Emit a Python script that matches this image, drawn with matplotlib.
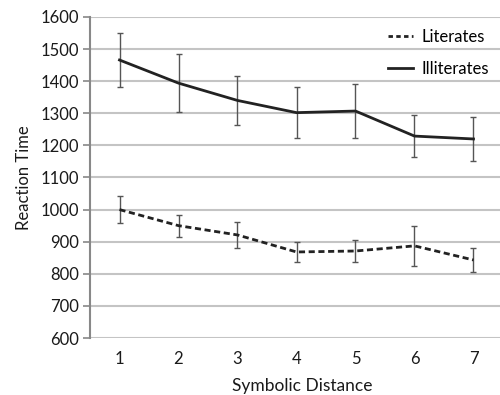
import matplotlib
matplotlib.use("Agg")
import matplotlib.pyplot as plt
from matplotlib.lines import Line2D

distance = [1, 2, 3, 4, 5, 6, 7]
literates = [1000, 950, 921, 868, 871, 887, 843]
literates_err = [43, 34, 40, 32, 34, 62, 37]
illiterates = [1466, 1394, 1340, 1302, 1307, 1229, 1220]
illiterates_err = [84, 90, 76, 80, 85, 65, 68]
yticks = [600, 700, 800, 900, 1000, 1100, 1200, 1300, 1400, 1500, 1600]

plt.rcParams['font.family'] = ['Lato', 'DejaVu Sans']

fig = plt.figure(figsize=(5, 3.95), dpi=100)
ax = fig.add_axes([0.18, 0.1443, 0.82, 0.8127])

dash = (0, (2.2, 1.3))
ax.errorbar(distance, literates, yerr=literates_err, color='#222222', lw=2.0,
            ls=dash, ecolor='#555555', elinewidth=1.0, capsize=2, capthick=1.0,
            label='Literates', zorder=3)
ax.errorbar(distance, illiterates, yerr=illiterates_err, color='#222222', lw=2.0,
            ls='-', ecolor='#555555', elinewidth=1.0, capsize=2, capthick=1.0,
            label='Illiterates', zorder=3)

ax.set_ylim(600, 1600)
ax.set_xlim(0.5, 0.5 + 410 / 59)
ax.set_yticks(yticks)
ax.set_xticks(distance)
ax.yaxis.grid(True, color='#c4c4c4', lw=1.5)
ax.set_axisbelow(True)
for s in ['top', 'right', 'bottom']:
    ax.spines[s].set_visible(False)
ax.spines['left'].set_color('#888888')
ax.spines['left'].set_linewidth(1.5)
ax.tick_params(axis='y', length=5, width=1.2, color='#888888', labelsize=12,
               labelcolor='#1a1a1a', pad=3)
ax.tick_params(axis='x', length=0, labelsize=12, labelcolor='#1a1a1a', pad=9)

ax.set_ylabel('Reaction Time', fontsize=12, labelpad=6, color='#1a1a1a')
ax.set_xlabel('Symbolic Distance', fontsize=12.5, labelpad=6, color='#1a1a1a')
ax.xaxis.set_label_coords(0.518, -0.125)

handles = [Line2D([], [], color='#222222', lw=2, ls=(0, (1.6, 1.2))),
           Line2D([], [], color='#222222', lw=2, ls='-')]
ax.legend(handles, ['Literates', 'Illiterates'], loc='upper right', frameon=False,
          fontsize=12, handlelength=1.5, handletextpad=0.5, labelspacing=0.95,
          bbox_to_anchor=(1.01, 1.01))

fig.savefig('out.png', dpi=100)
